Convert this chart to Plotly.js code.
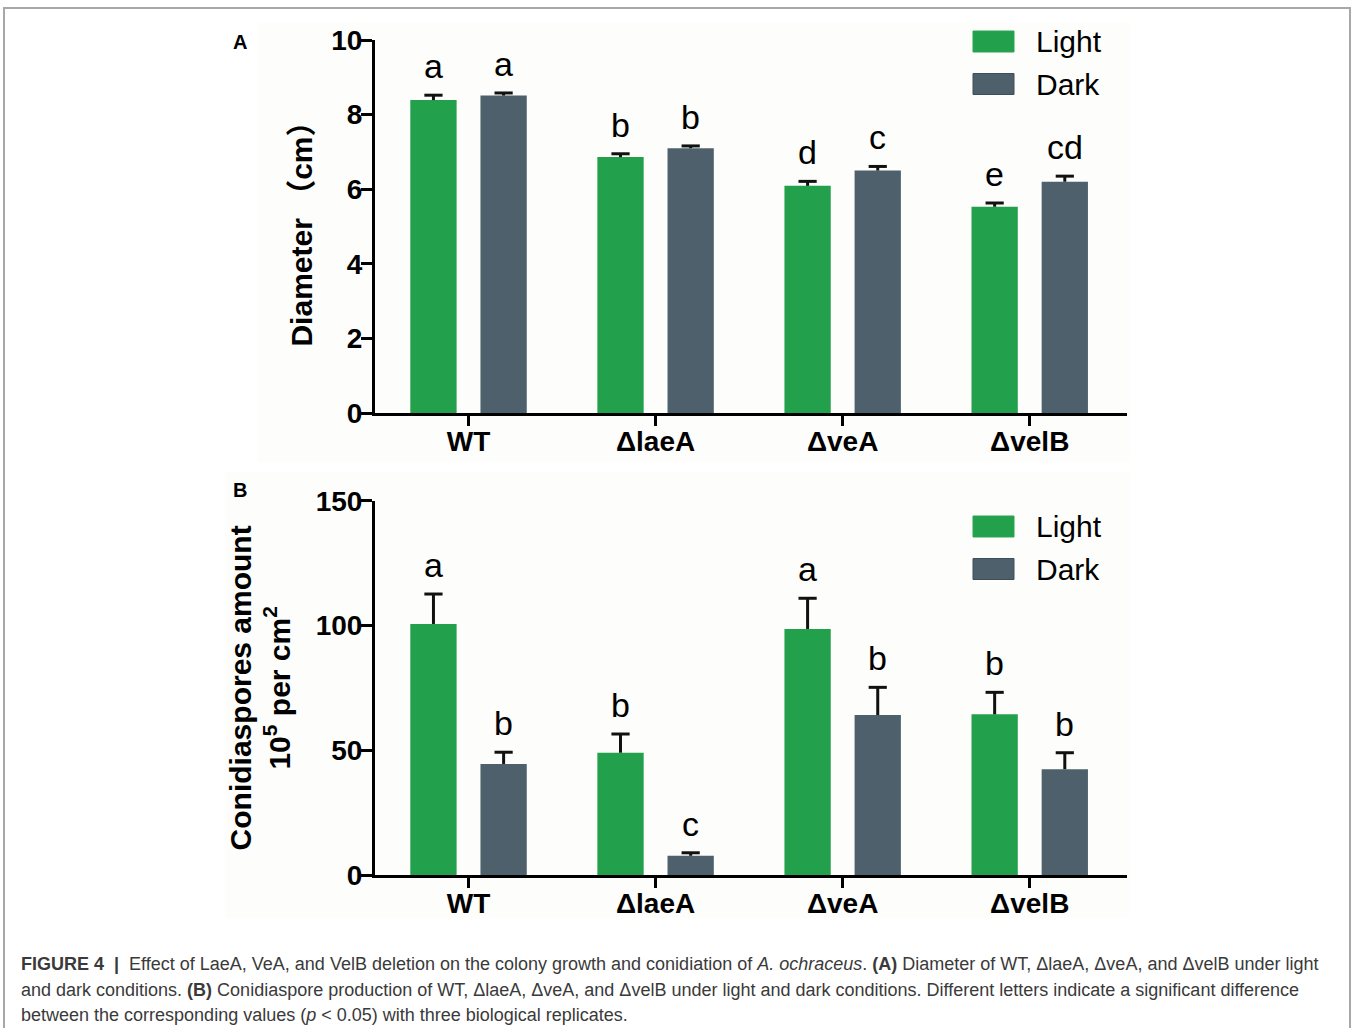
<!DOCTYPE html>
<html>
<head>
<meta charset="utf-8">
<script src="https://cdn.plot.ly/plotly-3.0.1.min.js"></script>
<style>html,body{margin:0;padding:0;background:#fff;}#chart{width:1355px;height:1028px;}</style>
</head>
<body>
<div id="chart"></div>
<script>
// ---- data ----
var categories = ['WT', 'ΔlaeA', 'ΔveA', 'ΔvelB'];
var seriesNames = ['Light', 'Dark'];

var diameterLight = [8.39, 6.86, 6.09, 5.53];
var diameterLightErr = [0.13, 0.09, 0.12, 0.10];
var diameterDark = [8.51, 7.10, 6.50, 6.20];
var diameterDarkErr = [0.07, 0.06, 0.11, 0.15];
var diameterLightLetters = ['a', 'b', 'd', 'e'];
var diameterDarkLetters = ['a', 'b', 'c', 'cd'];

var conidiaLight = [100.6, 49.0, 98.6, 64.4];
var conidiaLightErr = [12.0, 7.5, 12.3, 8.8];
var conidiaDark = [44.5, 7.7, 64.1, 42.4];
var conidiaDarkErr = [4.7, 1.2, 11.1, 6.6];
var conidiaLightLetters = ['a', 'b', 'a', 'b'];
var conidiaDarkLetters = ['b', 'c', 'b', 'b'];

var diameterTicks = [0, 2, 4, 6, 8, 10];
var conidiaTicks = [0, 50, 100, 150];

// ---- styling ----
var W = 1355, H = 1028;
function PX(x) { return x / W; }
function PY(y) { return 1 - y / H; }
var GREEN = '#22a04b', SLATE = '#4e606b';
var FONT = 'Liberation Sans, Arial, Helvetica, sans-serif';
var CJK = 'Liberation Sans, Arial, Noto Sans CJK SC, sans-serif';
var BARGAP = 0.25;
var OFF = (1 - BARGAP) / 4;           // centre offset of each bar inside its group
var positions = categories.map(function (c, i) { return i; });

function barTrace(y, name, color, xa, ya) {
  return {
    type: 'bar', x: positions, y: y, name: name, xaxis: xa, yaxis: ya,
    marker: { color: color, line: { width: 0 } },
    showlegend: false, hoverinfo: 'y'
  };
}
// upper-only error bars: stem + cap
function whiskers(vals, errs, sign, xa, ya) {
  var xs = [], ys = [], cx = [], cy = [];
  for (var i = 0; i < vals.length; i++) {
    xs.push(i + sign * OFF, i + sign * OFF, null);
    ys.push(vals[i], vals[i] + errs[i], null);
    cx.push(i + sign * OFF);
    cy.push(vals[i] + errs[i]);
  }
  return [
    { type: 'scatter', mode: 'lines', x: xs, y: ys, xaxis: xa, yaxis: ya,
      line: { color: '#111', width: 3 }, showlegend: false, hoverinfo: 'skip' },
    { type: 'scatter', mode: 'markers', x: cx, y: cy, xaxis: xa, yaxis: ya,
      marker: { symbol: 'line-ew', size: 13, line: { color: '#111', width: 3 } },
      showlegend: false, hoverinfo: 'skip' }
  ];
}

var data = [
  barTrace(diameterLight, seriesNames[0], GREEN, 'x', 'y'),
  barTrace(diameterDark, seriesNames[1], SLATE, 'x', 'y'),
  barTrace(conidiaLight, seriesNames[0], GREEN, 'x2', 'y2'),
  barTrace(conidiaDark, seriesNames[1], SLATE, 'x2', 'y2')
].concat(
  whiskers(diameterLight, diameterLightErr, -1, 'x', 'y'),
  whiskers(diameterDark, diameterDarkErr, 1, 'x', 'y'),
  whiskers(conidiaLight, conidiaLightErr, -1, 'x2', 'y2'),
  whiskers(conidiaDark, conidiaDarkErr, 1, 'x2', 'y2')
);

var annotations = [];
function addLetters(vals, errs, letters, sign, xr, yr) {
  for (var i = 0; i < vals.length; i++) {
    annotations.push({
      xref: xr, yref: yr, x: i + sign * OFF, y: vals[i] + errs[i],
      text: letters[i], showarrow: false, xanchor: 'center', yanchor: 'bottom', yshift: 8,
      font: { family: FONT, size: 34, color: '#000' }
    });
  }
}
addLetters(diameterLight, diameterLightErr, diameterLightLetters, -1, 'x', 'y');
addLetters(diameterDark, diameterDarkErr, diameterDarkLetters, 1, 'x', 'y');
addLetters(conidiaLight, conidiaLightErr, conidiaLightLetters, -1, 'x2', 'y2');
addLetters(conidiaDark, conidiaDarkErr, conidiaDarkLetters, 1, 'x2', 'y2');

// panel labels
annotations.push({ xref: 'paper', yref: 'paper', x: PX(240), y: PY(42), text: '<b>A</b>', showarrow: false,
  xanchor: 'center', yanchor: 'middle', font: { family: FONT, size: 20, color: '#000' } });
annotations.push({ xref: 'paper', yref: 'paper', x: PX(240), y: PY(490), text: '<b>B</b>', showarrow: false,
  xanchor: 'center', yanchor: 'middle', font: { family: FONT, size: 20, color: '#000' } });

// custom legends (large swatches)
var shapes = [];
function addLegend(yTop) {
  [[GREEN, seriesNames[0], 0], [SLATE, seriesNames[1], 1]].forEach(function (it) {
    var y0 = yTop + it[2] * 42.5;
    shapes.push({ type: 'rect', xref: 'paper', yref: 'paper', x0: PX(973), x1: PX(1014), y0: PY(y0), y1: PY(y0 + 21),
      fillcolor: it[0], line: { color: it[2] ? '#3f4f59' : '#2aa555', width: 1 } });
    annotations.push({ xref: 'paper', yref: 'paper', x: PX(1034), y: PY(y0 + 10.5), text: it[1], showarrow: false,
      xanchor: 'left', yanchor: 'middle', font: { family: FONT, size: 30, color: '#000' } });
  });
}
addLegend(31);
addLegend(516);

// background panels and frame
shapes.unshift({ type: 'rect', xref: 'paper', yref: 'paper', x0: PX(258), x1: PX(1130), y0: PY(23), y1: PY(462),
  fillcolor: '#fdfdfb', line: { width: 0 }, layer: 'below' });
shapes.unshift({ type: 'rect', xref: 'paper', yref: 'paper', x0: PX(225), x1: PX(1130), y0: PY(472), y1: PY(918),
  fillcolor: '#fdfdfb', line: { width: 0 }, layer: 'below' });
shapes.push({ type: 'rect', xref: 'paper', yref: 'paper', x0: PX(4), x1: PX(1350), y0: PY(8), y1: PY(1040),
  fillcolor: 'rgba(0,0,0,0)', line: { color: '#a8a8a8', width: 2 } });

// caption
var CAP = 'Liberation Sans, Arial, sans-serif';
var captionLines = [
  '<b>FIGURE 4  |</b>  Effect of LaeA, VeA, and VelB deletion on the colony growth and conidiation of <i>A. ochraceus</i>. <b>(A)</b> Diameter of WT, ΔlaeA, ΔveA, and ΔvelB under light',
  'and dark conditions. <b>(B)</b> Conidiaspore production of WT, ΔlaeA, ΔveA, and ΔvelB under light and dark conditions. Different letters indicate a significant difference',
  'between the corresponding values (<i>p</i> < 0.05) with three biological replicates.'
];
var captionY = [964, 990, 1015];
captionLines.forEach(function (t, i) {
  annotations.push({ xref: 'paper', yref: 'paper', x: PX(19), y: PY(captionY[i]), text: t, showarrow: false,
    xanchor: 'left', yanchor: 'middle', font: { family: CAP, size: 18, color: '#3a3a3a' } });
});

function xAxis(domainY) {
  return {
    domain: [PX(375), PX(1127)], anchor: domainY, type: 'linear', range: [-0.5, 3.52],
    tickvals: positions, ticktext: categories,
    showline: true, linecolor: '#000', linewidth: 3, ticks: 'outside', ticklen: 10, tickwidth: 3, tickcolor: '#000',
    showgrid: false, zeroline: false, fixedrange: true, ticklabelstandoff: -9,
    tickfont: { family: FONT, size: 28, color: '#000', weight: 'bold' }
  };
}
function yAxis(domain, range, ticks, anchor, title, standoff) {
  return {
    domain: domain, anchor: anchor, range: range, tickvals: ticks, ticktext: ticks.map(String),
    showline: true, linecolor: '#000', linewidth: 3, ticks: 'outside', ticklen: 11, tickwidth: 3, tickcolor: '#000',
    showgrid: false, zeroline: false, fixedrange: true, ticklabelstandoff: -7,
    tickfont: { family: FONT, size: 28, color: '#000', weight: 'bold' },
    title: { text: title, standoff: standoff, font: { family: CJK, size: 30, color: '#000', weight: 'bold' } }
  };
}

var layout = {
  width: W, height: H, margin: { l: 0, r: 0, t: 0, b: 0 }, paper_bgcolor: '#fff', plot_bgcolor: 'rgba(0,0,0,0)',
  barmode: 'group', bargap: BARGAP, bargroupgap: 0.34, showlegend: false,
  xaxis: xAxis('y'),
  yaxis: yAxis([PY(413), PY(40)], [0, 10], diameterTicks, 'x', 'Diameter （cm）', 10),
  xaxis2: xAxis('y2'),
  yaxis2: yAxis([PY(875), PY(500.7)], [0, 150], conidiaTicks, 'x2', 'Conidiaspores amount<br>10<sup>5</sup> per cm<sup>2</sup>', 17),
  annotations: annotations, shapes: shapes
};

Plotly.newPlot('chart', data, layout, { displayModeBar: false, staticPlot: true });
</script>
</body>
</html>
